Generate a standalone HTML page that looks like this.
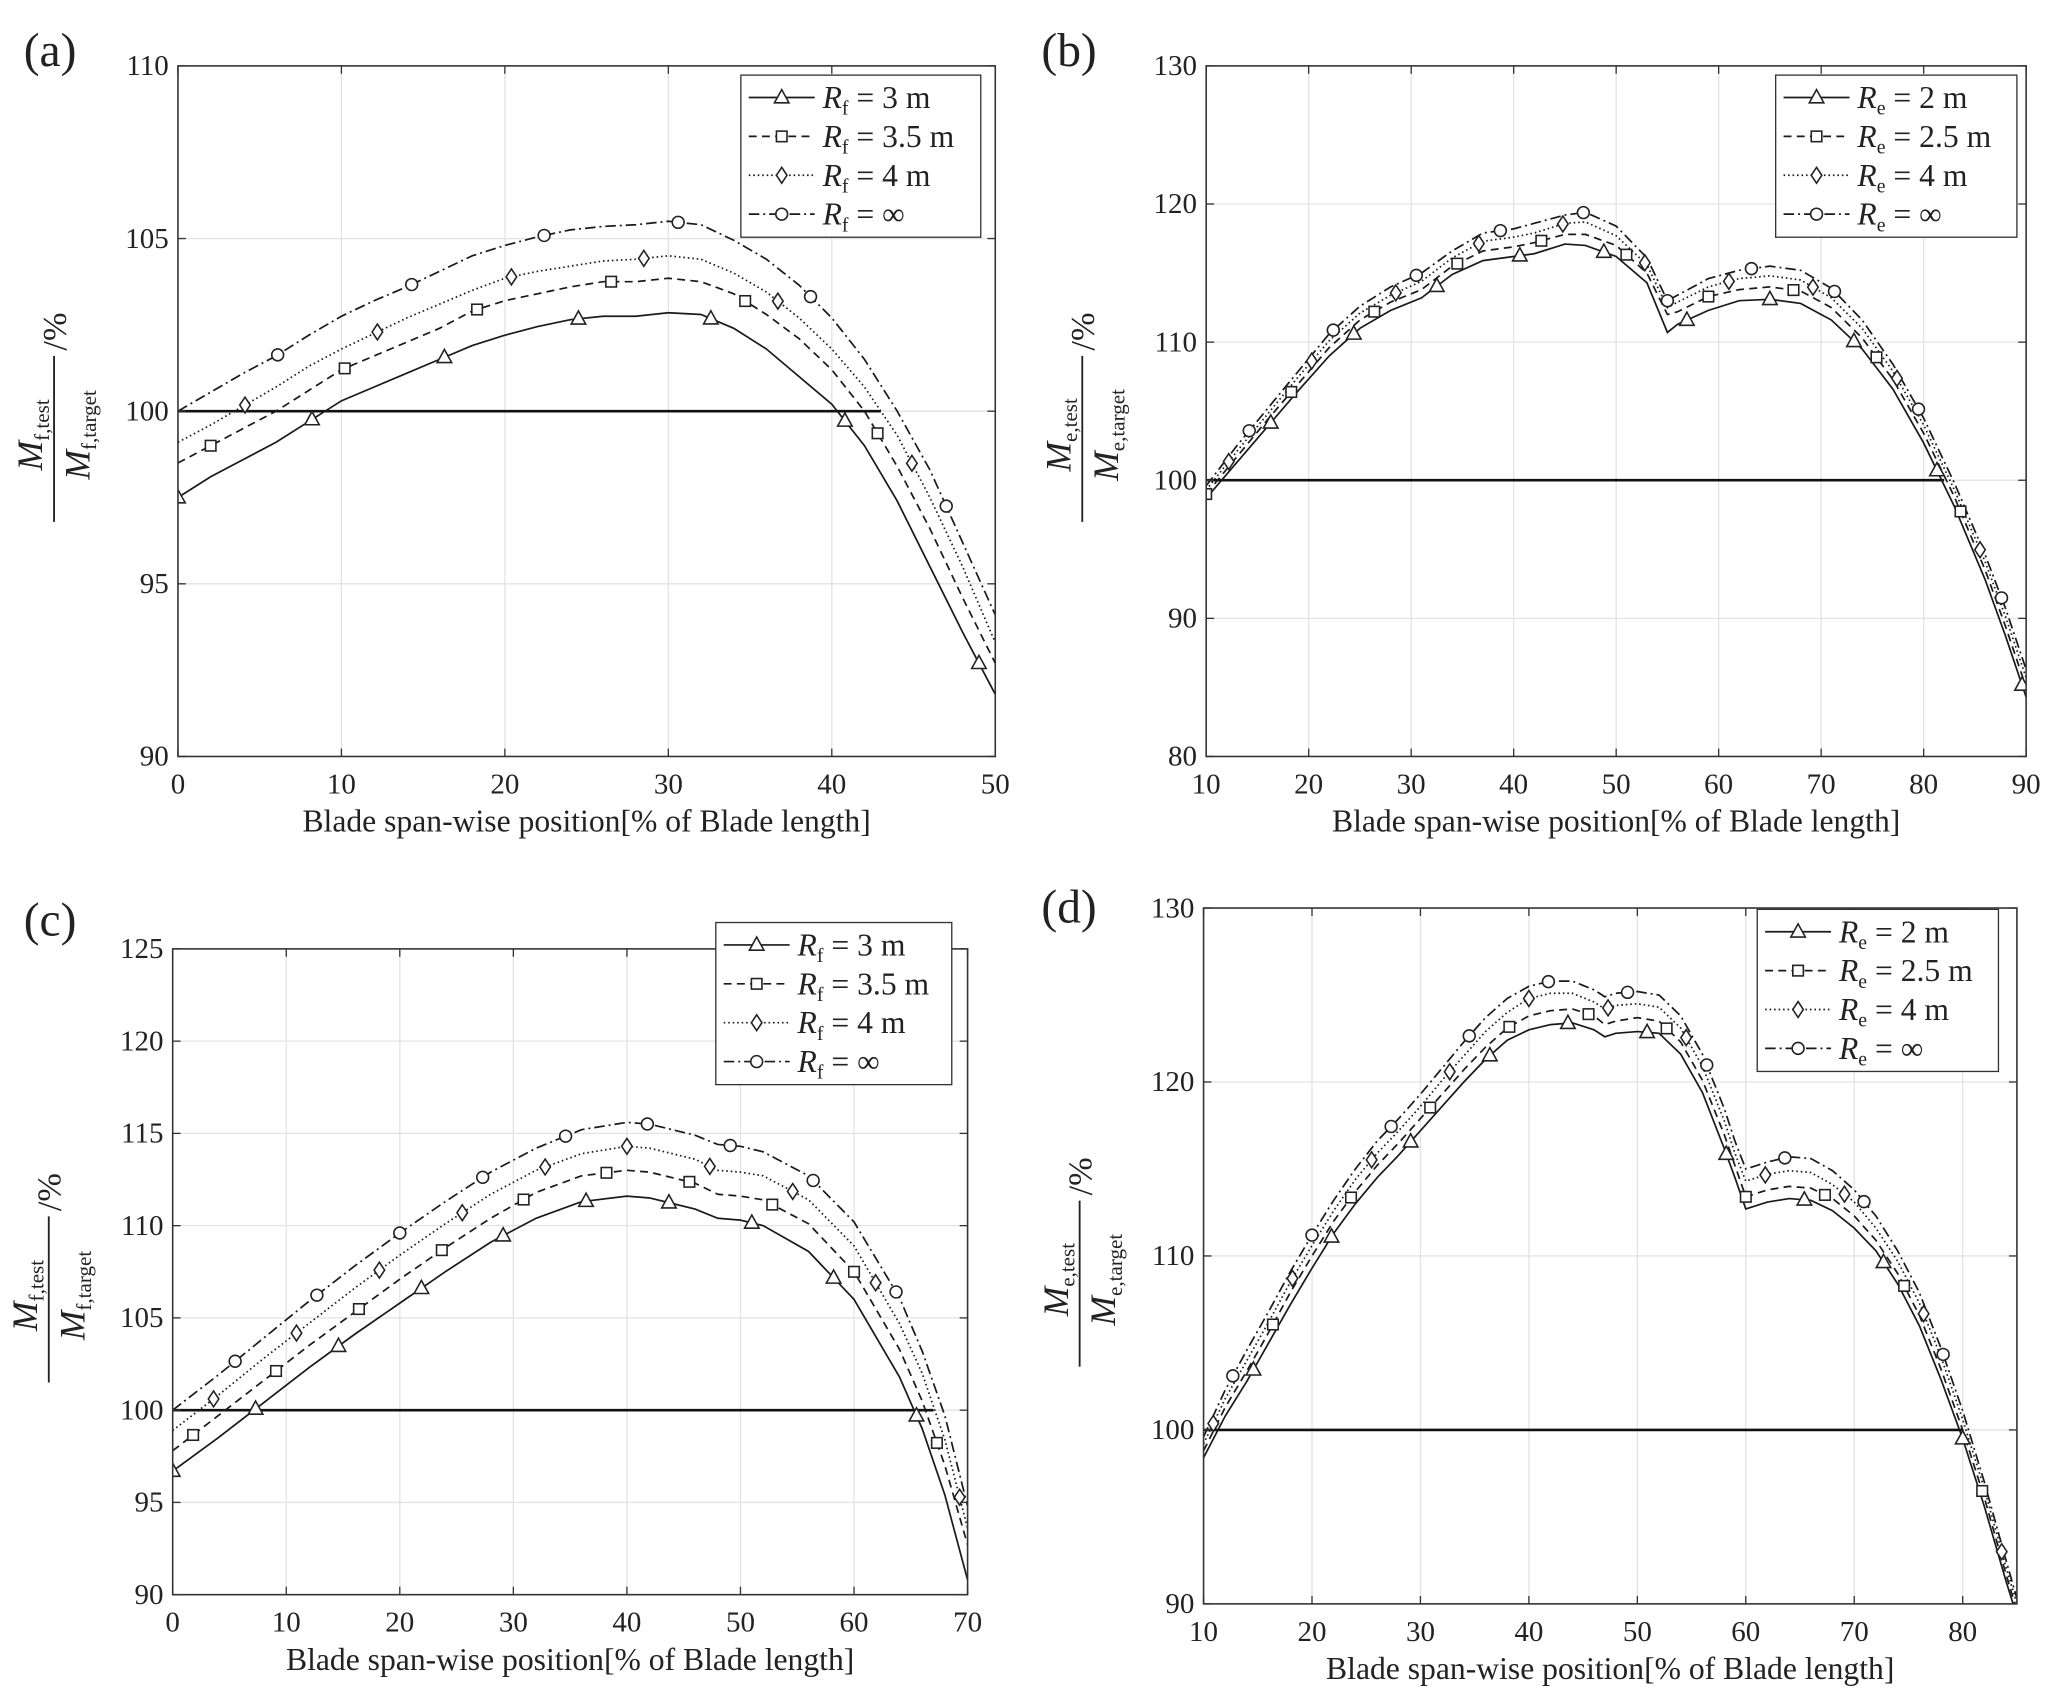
<!DOCTYPE html>
<html><head><meta charset="utf-8"><style>
html,body{margin:0;padding:0;background:#fff}
svg{display:block}
text{font-family:"Liberation Serif",serif;fill:#222}
</style></head><body>
<svg id="fig" width="2067" height="1708" viewBox="0 0 1568 1296" preserveAspectRatio="none" xmlns="http://www.w3.org/2000/svg"></svg>
<script>
// ---------- Panel (a) data ----------
const aX = [0,2,4,6,8,10,12,14,16,18,20,22,24,26,28,30,32,34,36,38,40,42,44,46,48,50];
const aS1 = [97.5,98.1,98.6,99.1,99.7,100.3,100.7,101.1,101.5,101.9,102.2,102.45,102.65,102.75,102.75,102.85,102.8,102.4,101.8,101.0,100.2,99.0,97.4,95.5,93.6,91.8];
const aS2 = [98.5,99.0,99.5,100.0,100.6,101.2,101.6,102.0,102.4,102.9,103.2,103.4,103.6,103.75,103.75,103.85,103.75,103.4,102.8,102.1,101.2,100.0,98.4,96.6,94.6,92.7];
const aS3 = [99.1,99.6,100.15,100.7,101.3,101.8,102.25,102.7,103.1,103.5,103.85,104.05,104.2,104.35,104.4,104.5,104.4,104.0,103.45,102.7,101.8,100.7,99.3,97.5,95.5,93.3];
const aS4 = [100.0,100.55,101.1,101.6,102.2,102.75,103.2,103.6,104.05,104.5,104.8,105.05,105.25,105.35,105.4,105.5,105.4,104.95,104.4,103.65,102.7,101.5,100.0,98.3,96.2,94.1];
const aM1 = [0,8.2,16.3,24.5,32.6,40.8,49];
const aM2 = [2,10.2,18.3,26.5,34.7,42.8];
const aM3 = [4.1,12.2,20.4,28.5,36.7,44.9];
const aM4 = [6.1,14.3,22.4,30.6,38.7,47];
const aXTicks = [0,10,20,30,40,50];
const aYTicks = [90,95,100,105,110];
const aLegend = ["3 m","3.5 m","4 m","∞"];

// ---------- Panel (b) data ----------
const bX = [10,13,16,19,22,25,28,31,34,37,40,42,45,47,50,53,55,56,59,62,65,68,71,74,77,80,83,86,88,90];
const bS1 = [98.7,101.3,103.9,106.5,109.0,111.0,112.3,113.2,114.9,115.9,116.2,116.4,117.1,117.0,116.2,114.3,110.7,111.3,112.3,113.0,113.1,112.8,111.6,109.5,106.6,102.7,98.1,92.8,88.7,84.3];
const bS2 = [99.0,101.7,104.4,107.0,109.6,111.6,112.9,113.8,115.5,116.6,116.9,117.2,117.8,117.8,117.0,115.0,112.0,112.2,113.3,113.8,114.0,113.7,112.5,110.3,107.3,103.4,98.8,93.5,89.4,85.0];
const bS3 = [99.3,102.1,104.8,107.5,110.1,112.1,113.4,114.4,116.1,117.3,117.6,117.9,118.6,118.7,117.7,115.6,112.5,112.9,114.0,114.6,114.8,114.5,113.2,111.0,107.9,104.0,99.3,94.1,90.1,85.7];
const bS4 = [99.6,102.5,105.2,107.9,110.6,112.6,114.0,115.0,116.6,117.9,118.2,118.6,119.2,119.4,118.4,116.1,113.0,113.4,114.6,115.2,115.5,115.2,113.9,111.6,108.4,104.5,99.8,94.6,90.7,86.3];
const bM1 = [16.3,24.4,32.5,40.6,48.8,56.9,65,73.2,81.3,89.6];
const bM2 = [10,18.3,26.4,34.5,42.7,51,59,67.3,75.4,83.6];
const bM3 = [12.2,20.3,28.5,36.6,44.8,52.8,61,69.2,77.4,85.5];
const bM4 = [14.2,22.4,30.5,38.7,46.8,55,63.2,71.3,79.5,87.6];
const bXTicks = [10,20,30,40,50,60,70,80,90];
const bYTicks = [80,90,100,110,120,130];
const bLegend = ["2 m","2.5 m","4 m","∞"];

// ---------- Panel (c) data ----------
const cX = [0,4,8,12,16,20,24,28,32,36,40,42,44,46,48,50,52,56,60,64,66,68,70];
const cS1 = [96.7,98.5,100.4,102.3,104.1,105.8,107.5,109.1,110.4,111.3,111.6,111.5,111.2,110.9,110.4,110.3,110.0,108.6,106.0,101.8,99.0,95.4,90.8];
const cS2 = [97.8,99.7,101.6,103.5,105.3,107.1,108.8,110.4,111.8,112.7,113.0,112.9,112.6,112.3,111.7,111.6,111.4,110.1,107.5,103.3,100.5,97.0,92.7];
const cS3 = [98.9,100.8,102.8,104.7,106.6,108.4,110.1,111.7,113.0,113.9,114.3,114.2,113.9,113.6,113.0,112.9,112.7,111.4,108.9,104.7,102.0,98.4,93.6];
const cS4 = [100.0,101.9,103.9,105.9,107.8,109.6,111.3,112.9,114.2,115.2,115.6,115.5,115.2,114.9,114.4,114.3,114.0,112.7,110.2,106.1,103.2,99.7,94.8];
const cM1 = [0,7.3,14.6,21.9,29.1,36.4,43.7,51,58.2,65.5];
const cM2 = [1.8,9.1,16.4,23.7,30.9,38.2,45.5,52.8,60,67.3];
const cM3 = [3.6,10.9,18.2,25.5,32.8,40,47.3,54.6,61.9,69.3];
const cM4 = [5.5,12.7,20,27.3,34.6,41.8,49.1,56.4,63.7];
const cXTicks = [0,10,20,30,40,50,60,70];
const cYTicks = [90,95,100,105,110,115,120,125];
const cLegend = ["3 m","3.5 m","4 m","∞"];

// ---------- Panel (d) data ----------
const dX = [10,12,14,16,18,20,22,24,26,28,30,32,34,36,38,40,42,44,46,47,48,50,52,54,56,58,59,60,62,64,66,68,70,72,74,76,78,80,82,84,85];
const dS1 = [98.4,100.8,102.8,105.0,107.2,109.3,111.3,113.0,114.5,115.8,117.2,118.6,120.0,121.3,122.4,123.0,123.3,123.4,123.0,122.6,122.8,122.9,122.8,121.6,119.4,116.2,114.5,112.7,113.1,113.3,113.2,112.6,111.6,110.3,108.4,106.0,102.9,99.5,95.6,91.3,89.3];
const dS2 = [98.8,101.3,103.4,105.6,107.9,110.0,112.0,113.7,115.2,116.5,117.9,119.3,120.7,122.0,123.1,123.8,124.1,124.2,123.8,123.3,123.5,123.7,123.5,122.3,120.1,117.0,115.2,113.4,113.8,114.0,113.9,113.3,112.3,110.9,109.0,106.6,103.5,100.0,96.1,91.7,89.6];
const dS3 = [99.2,101.8,104.0,106.2,108.5,110.6,112.6,114.4,115.9,117.2,118.6,120.1,121.5,122.9,124.0,124.8,125.1,125.1,124.6,124.2,124.4,124.5,124.3,123.1,120.9,117.8,115.9,114.3,114.7,114.9,114.8,114.1,113.1,111.6,109.7,107.3,104.2,100.6,96.6,92.1,90.0];
const dS4 = [99.6,102.3,104.6,106.8,109.1,111.2,113.2,115.0,116.6,117.9,119.3,120.8,122.3,123.7,124.8,125.5,125.8,125.8,125.3,124.9,125.1,125.2,125.0,123.8,121.6,118.5,116.6,115.0,115.4,115.7,115.6,114.9,113.8,112.3,110.3,107.9,104.7,101.1,97.0,92.5,90.3];
const dM1 = [14.6,21.8,29.1,36.4,43.6,50.9,58.2,65.4,72.7,80];
const dM2 = [16.4,23.6,30.9,38.2,45.5,52.7,60,67.3,74.6,81.8];
const dM3 = [10.9,18.2,25.5,32.7,40,47.3,54.5,61.8,69.1,76.4,83.6];
const dM4 = [12.7,20,27.3,34.5,41.8,49.1,56.4,63.6,70.9,78.2];
const dXTicks = [10,20,30,40,50,60,70,80];
const dYTicks = [90,100,110,120,130];
const dLegend = ["2 m","2.5 m","4 m","∞"];

const NS = "http://www.w3.org/2000/svg";
const svg = document.getElementById("fig");
const dashes = ["", "6,4", "1.2,2.2", "8,3,1.5,3"];
const markerKinds = ["tri","sq","dia","circ"];

function mk(tag, attrs, parent){
  const e = document.createElementNS(NS, tag);
  for (const k in attrs) e.setAttribute(k, attrs[k]);
  (parent||svg).appendChild(e);
  return e;
}
function interp(xs, ys, x){
  if (x <= xs[0]) return ys[0];
  for (let i=1;i<xs.length;i++){
    if (x <= xs[i]){ const t=(x-xs[i-1])/(xs[i]-xs[i-1]); return ys[i-1]+t*(ys[i]-ys[i-1]); }
  }
  return ys[ys.length-1];
}
function drawMarker(g, kind, px, py){
  let e;
  if (kind==="tri") e = mk("polygon",{points:`${px},${py-6} ${px-5.5},${py+4} ${px+5.5},${py+4}`,fill:"#fff",stroke:"#222","stroke-width":1.2},g);
  else if (kind==="sq") e = mk("rect",{x:px-4,y:py-4,width:8,height:8,fill:"#fff",stroke:"#222","stroke-width":1.2},g);
  else if (kind==="dia") e = mk("polygon",{points:`${px},${py-6} ${px+4},${py} ${px},${py+6} ${px-4},${py}`,fill:"#fff",stroke:"#222","stroke-width":1.2},g);
  else e = mk("circle",{cx:px,cy:py,r:4.5,fill:"#fff",stroke:"#222","stroke-width":1.2},g);
  return e;
}

function panel(cfg){
  const {id,L,R,T,B,x0,x1,y0,y1,xt,yt,xs,series,marks,refEnd,letter,sub,legend,lg} = cfg;
  const sx = v => L + (v-x0)/(x1-x0)*(R-L);
  const sy = v => B - (v-y0)/(y1-y0)*(B-T);
  const g = mk("g",{});
  
  
  mk("rect",{x:L,y:T,width:R-L,height:B-T,fill:"#fff"},g);
  xt.forEach(v=>{ const gl=mk("line",{x1:sx(v),x2:sx(v),y1:T,y2:B,stroke:"#e3e3e3","stroke-width":1},g);
    
     });
  yt.forEach(v=>{ const gl=mk("line",{x1:L,x2:R,y1:sy(v),y2:sy(v),stroke:"#e3e3e3","stroke-width":1},g);
    
     });
  const cp = mk("clipPath",{id:"clip"+id},g);
  mk("rect",{x:L,y:T,width:R-L,height:B-T},cp);
  const pg = mk("g",{"clip-path":`url(#clip${id})`},g);
  const ref = mk("line",{x1:sx(x0),x2:sx(refEnd),y1:sy(100),y2:sy(100),stroke:"#111","stroke-width":2},pg);
  
  
  series.forEach((ys,i)=>{
    const d = xs.map((x,k)=>(k?"L":"M")+sx(x).toFixed(2)+","+sy(ys[k]).toFixed(2)).join(" ");
    const p = mk("path",{d:d,fill:"none",stroke:"#1a1a1a","stroke-width":1.3,"stroke-dasharray":dashes[i]},pg);
    
    
  });
  series.forEach((ys,i)=>{
    marks[i].forEach(mx=>{
      const m = drawMarker(pg, markerKinds[i], sx(mx), sy(interp(xs,ys,mx)));
      
      
    });
  });
  mk("rect",{x:L,y:T,width:R-L,height:B-T,fill:"none",stroke:"#333","stroke-width":1.2},g);
  xt.forEach(v=>{
    mk("line",{x1:sx(v),x2:sx(v),y1:B,y2:B-6,stroke:"#333"},g);
    mk("line",{x1:sx(v),x2:sx(v),y1:T,y2:T+6,stroke:"#333"},g);
    const t = mk("text",{x:sx(v),y:B+28,"text-anchor":"middle","font-size":22},g);
    t.textContent = v;
    
    
  });
  yt.forEach(v=>{
    mk("line",{x1:L,x2:L+6,y1:sy(v),y2:sy(v),stroke:"#333"},g);
    mk("line",{x1:R,x2:R-6,y1:sy(v),y2:sy(v),stroke:"#333"},g);
    const t = mk("text",{x:L-7,y:sy(v)+7,"text-anchor":"end","font-size":22},g);
    t.textContent = v;
    
    
  });
  const xl = mk("text",{x:(L+R)/2,y:B+57,"text-anchor":"middle","font-size":24},g);
  xl.textContent = "Blade span-wise position[% of Blade length]";
  
  
  const yg = mk("g",{transform:`translate(${L-90},${(T+B)/2}) rotate(-90)`},g);
  
  
  const num = mk("text",{x:-18,y:-13,"text-anchor":"middle","font-size":27},yg);
  num.innerHTML = `<tspan font-style="italic">M</tspan><tspan font-size="16" dy="5">${sub},test</tspan>`;
  mk("line",{x1:-84,x2:42,y1:-4,y2:-4,stroke:"#222","stroke-width":1.4},yg);
  const den = mk("text",{x:-18,y:23,"text-anchor":"middle","font-size":27},yg);
  den.innerHTML = `<tspan font-style="italic">M</tspan><tspan font-size="16" dy="5">${sub},target</tspan>`;
  const pc = mk("text",{x:46,y:5,"font-size":26},yg);
  pc.textContent = "/%";
  const lt = mk("text",{x:letter[0],y:letter[1],"font-size":36},g);
  lt.textContent = letter[2];
  
  
  const lgg = mk("g",{},g);
  
  
  mk("rect",{x:lg[0],y:lg[1],width:lg[2],height:lg[3],fill:"#fff",stroke:"#333","stroke-width":1},lgg);
  legend.forEach((lab,i)=>{
    const yy = lg[1] + 17 + i*29.5;
    const e = mk("g",{},lgg);
    
    
    mk("line",{x1:lg[0]+6,x2:lg[0]+56,y1:yy,y2:yy,stroke:"#1a1a1a","stroke-width":1.3,"stroke-dasharray":dashes[i]},e);
    drawMarker(e, markerKinds[i], lg[0]+31, yy);
    const t = mk("text",{x:lg[0]+62,y:yy+8,"font-size":24},e);
    t.innerHTML = `<tspan font-style="italic">R</tspan><tspan font-size="15" dy="5">${sub}</tspan><tspan dy="-5"> = ${lab}</tspan>`;
  });
}

panel({id:"a",L:135,R:755,T:50,B:574,x0:0,x1:50,y0:90,y1:110,xt:aXTicks,yt:aYTicks,xs:aX,series:[aS1,aS2,aS3,aS4],marks:[aM1,aM2,aM3,aM4],refEnd:43,letter:[18,50,"(a)"],sub:"f",legend:aLegend,lg:[562,57,182,123]});
panel({id:"b",L:915,R:1537,T:50,B:574,x0:10,x1:90,y0:80,y1:130,xt:bXTicks,yt:bYTicks,xs:bX,series:[bS1,bS2,bS3,bS4],marks:[bM1,bM2,bM3,bM4],refEnd:82,letter:[790,50,"(b)"],sub:"e",legend:bLegend,lg:[1347,57,183,123]});
panel({id:"c",L:131,R:734,T:720,B:1210,x0:0,x1:70,y0:90,y1:125,xt:cXTicks,yt:cYTicks,xs:cX,series:[cS1,cS2,cS3,cS4],marks:[cM1,cM2,cM3,cM4],refEnd:67,letter:[18,710,"(c)"],sub:"f",legend:cLegend,lg:[543,700,179,123]});
panel({id:"d",L:913,R:1530,T:689,B:1217,x0:10,x1:85,y0:90,y1:130,xt:dXTicks,yt:dYTicks,xs:dX,series:[dS1,dS2,dS3,dS4],marks:[dM1,dM2,dM3,dM4],refEnd:80,letter:[790,700,"(d)"],sub:"e",legend:dLegend,lg:[1333,690,183,123]});
</script>
</body></html>
